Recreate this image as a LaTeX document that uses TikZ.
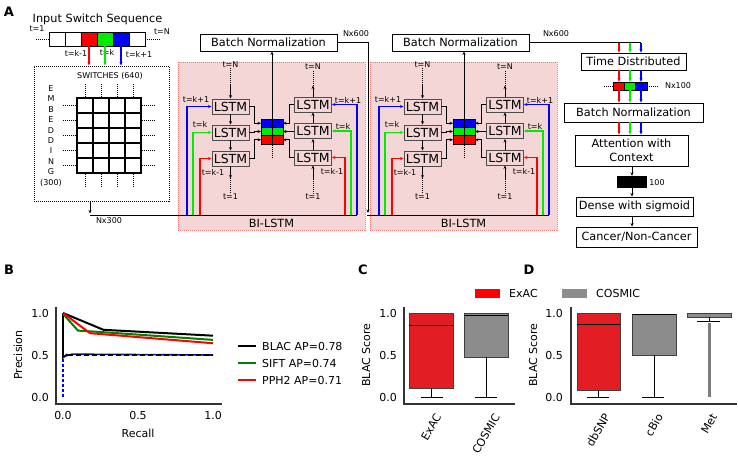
\documentclass[tikz,border=0pt]{standalone}
\usepackage{fontspec}
\setmainfont{DejaVu Sans}
\usetikzlibrary{positioning,arrows.meta,calc}

\newcommand{\fmain}{\fontsize{11.3}{13.5}\selectfont}
\newcommand{\fsmall}{\fontsize{8}{9.5}\selectfont}
\newcommand{\flstm}{\fontsize{12.5}{14}\selectfont}
\newcommand{\fpanel}{\fontsize{13}{15}\selectfont\bfseries}
\newcommand{\fplot}{\fontsize{11}{13}\selectfont}

\newcommand{\bilstm}[2]{%
  % #1 name, #2 x shift
  \begin{scope}[shift={(#2,0)}]
    \fill[pinkfill] (178,62) rectangle (365,230);
    \draw[pinkline] (178,62) rectangle (365,230);
    \node[font=\fmain] (#1-lab) at (271.5,223) {BI-LSTM};
    \node[box, minimum width=137pt, minimum height=17pt] (#1-bn) at (268.5,42.5) {Batch Normalization};
    % forward column (top to bottom)
    \node[lstm] (#1-l1) at (230.5,106.5) {LSTM};
    \node[lstm] (#1-l2) at (230.5,132.5) {LSTM};
    \node[lstm] (#1-l3) at (230.5,158.5) {LSTM};
    % backward column (bottom to top)
    \node[lstm] (#1-r1) at (313,104.5) {LSTM};
    \node[lstm] (#1-r2) at (313,131) {LSTM};
    \node[lstm] (#1-r3) at (313,157.5) {LSTM};
    % concatenated state
    \foreach \col [count=\ii from 0] in {seqblue,seqgreen,seqred} {
      \draw[fill=\col, line width=0.5pt] (261,119+8.33*\ii) rectangle (272,127.33+8.33*\ii);
      \draw[fill=\col, line width=0.5pt] (272,119+8.33*\ii) rectangle (283,127.33+8.33*\ii);
    }
    \node[draw, line width=1pt, minimum width=22pt, minimum height=25pt, inner sep=0pt] (#1-cube) at (272,131.5) {};
    \coordinate (#1-wb) at (261,123.2);
    \coordinate (#1-wg) at (261,131.5);
    \coordinate (#1-wr) at (261,139.8);
    \coordinate (#1-eb) at (283,123.2);
    \coordinate (#1-eg) at (283,131.5);
    \coordinate (#1-er) at (283,139.8);
    \draw[arr] (#1-l1.east) -- ++(5,0) |- (#1-wb);
    \draw[arr] (#1-l2.east) -- ++(5,0) |- (#1-wg);
    \draw[arr] (#1-l3.east) -- ++(5,0) |- (#1-wr);
    \draw[arr] (#1-r1.west) -- ++(-5,0) |- (#1-eb);
    \draw[arr] (#1-r2.west) -- ++(-5,0) |- (#1-eg);
    \draw[arr] (#1-r3.west) -- ++(-5,0) |- (#1-er);
    \draw[arr] (#1-cube.north) -- (#1-cube.north |- #1-bn.south);
    \draw[dots] (#1-cube.south) -- ++(0,14);
    % time steps, left
    \node[lab] (#1-ltn) at (230.5,65) {t=N};
    \node[lab] (#1-lt1) at (230.5,197) {t=1};
    \draw[dots] (#1-ltn.south) -- ++(0,16) coordinate (#1-la);
    \draw[arr] (#1-la) -- (#1-l1.north);
    \draw[arr] (#1-l1) -- (#1-l2);
    \draw[arr] (#1-l2) -- (#1-l3);
    \draw[arr] (#1-l3.south) -- ++(0,12) coordinate (#1-lb);
    \draw[dots] (#1-lb) -- (#1-lt1.north);
    % time steps, right
    \node[lab] (#1-rtn) at (313,67) {t=N};
    \node[lab] (#1-rt1) at (313,197) {t=1};
    \draw[dots] (#1-rt1.north) -- ++(0,-14) coordinate (#1-rb);
    \draw[arr] (#1-rb) -- (#1-r3.south);
    \draw[arr] (#1-r3) -- (#1-r2);
    \draw[arr] (#1-r2) -- (#1-r1);
    \draw[arr] (#1-r1.north) -- ++(0,-11) coordinate (#1-ra);
    \draw[dots] (#1-ra) -- (#1-rtn.south);
    % inputs from the bus
    \coordinate (#1-bb) at (187,215);
    \coordinate (#1-bg) at (193,215);
    \coordinate (#1-br) at (200,215);
    \coordinate (#1-qb) at (357,215);
    \coordinate (#1-qg) at (351,215);
    \coordinate (#1-qr) at (345,215);
    \draw[cin, seqblue]  (#1-bb) |- (#1-l1.west);
    \draw[cin, seqgreen] (#1-bg) |- (#1-l2.west);
    \draw[cin, seqred]   (#1-br) |- (#1-l3.west);
    \draw[cin, seqblue]  (#1-qb) |- (#1-r1.east);
    \draw[cin, seqgreen] (#1-qg) |- (#1-r2.east);
    \draw[cin, seqred]   (#1-qr) |- (#1-r3.east);
    \node[lab] (#1-kp) at (196,99) {t=k+1};
    \node[lab] (#1-k) at (200,124) {t=k};
    \node[lab] (#1-km) at (213,172) {t=k-1};
    \node[lab] (#1-qkp) at (348,100) {t=k+1};
    \node[lab] (#1-qk) at (343,126) {t=k};
    \node[lab] (#1-qkm) at (332,171) {t=k-1};
  \end{scope}%
}

\begin{document}
\begin{tikzpicture}[x=1pt, y=-1pt,
  box/.style={draw, line width=0.9pt, inner sep=0pt, font=\fmain, align=center},
  lstm/.style={draw=black!70, line width=0.9pt, inner sep=0pt, minimum width=37pt, minimum height=15pt, font=\flstm},
  lab/.style={font=\fsmall, inner sep=0pt},
  arr/.style={-{Stealth[length=3.5pt,width=3pt]}, line width=0.7pt},
  cin/.style={-{Stealth[length=3.5pt,width=3pt]}, line width=1.2pt},
  dots/.style={line width=0.9pt, dash pattern=on 1pt off 1pt},
  pinkfill/.style={fill=lstmbg},
  pinkline/.style={draw=red!55, line width=0.6pt, dash pattern=on 1pt off 1pt},
  seqc/.style={draw, line width=0.9pt, minimum width=16pt, minimum height=14pt, inner sep=0pt},
  cell/.style={draw, line width=1.1pt, minimum width=16pt, minimum height=15pt, inner sep=0pt},
  panel/.style={font=\fpanel, inner sep=0pt},
  ticklab/.style={font=\fplot, inner sep=0pt},
  spine/.style={draw=black!80, line width=1.2pt},
  whisk/.style={line width=0.8pt},
  bxred/.style={fill=boxred, draw=black!75, line width=0.8pt},
  bxgray/.style={fill=boxgray, draw=black!75, line width=0.8pt},
  patch/.style={minimum width=25pt, minimum height=9pt, inner sep=0pt}]

\definecolor{seqred}{RGB}{255,0,0}
\definecolor{seqgreen}{RGB}{0,235,0}
\definecolor{seqblue}{RGB}{0,0,255}
\definecolor{lstmbg}{RGB}{245,214,214}
\definecolor{plotgreen}{RGB}{0,128,0}
\definecolor{boxred}{RGB}{226,30,36}
\definecolor{boxgray}{RGB}{140,140,140}
\definecolor{fliergray}{RGB}{125,125,125}

\fill[white] (0,0) rectangle (738,456);
\useasboundingbox (0,0) rectangle (738,456);

% ===== INPUT SEQUENCE =====
\node[panel] (pa) at (9,11.5) {A};
\node[font=\fmain] (seqt) at (97.5,19) {Input Switch Sequence};
\foreach \col [count=\ii from 0] in {white,white,seqred,seqgreen,seqblue,white}
  \node[seqc, fill=\col] (s\ii) at (57+16*\ii,39) {};
\draw[dots] (s0.west) -- ++(-14,0);
\draw[dots] (s5.east) -- ++(15,0);
\node[lab] (st1) at (37,29) {t=1};
\node[lab] (stn) at (162,32) {t=N};
\node[lab] (skm) at (76,53) {t=k-1};
\node[lab] (sk) at (107,52) {t=k};
\node[lab] (skp) at (139,54) {t=k+1};

% ===== EMBEDDING =====
\node[draw, dots, minimum width=135pt, minimum height=135pt, inner sep=0pt] (emb) at (101.5,133.5) {};
\draw[cin, seqred]   (s2.south) -- (s2.south |- emb.north);
\draw[cin, seqgreen] (s3.south) -- (s3.south |- emb.north);
\draw[cin, seqblue]  (s4.south) -- (s4.south |- emb.north);
\node[lab] (swl) at (110,76) {SWITCHES (640)};
\node[font=\fontsize{8}{10.4}\selectfont, align=center, inner sep=0pt] (embl) at (51,136) {E\\M\\B\\E\\D\\D\\I\\N\\G\\(300)};
\foreach \r in {0,...,4}
  \foreach \cc in {0,...,3}
    \node[cell] (g\r\cc) at (85+16*\cc,105.5+15*\r) {};
\foreach \cc in {0,...,3} {
  \draw[dots] (g0\cc.north) -- ++(0,-13);
  \draw[dots] (g4\cc.south) -- ++(0,14);
}
\foreach \r in {0,...,4} {
  \draw[dots] (g\r0.west) -- ++(-13,0);
  \draw[dots] (g\r3.east) -- ++(14,0);
}

% ===== BI-LSTM BLOCKS =====
\bilstm{b1}{0}
\bilstm{b2}{192}

% bus lines
\coordinate (bus1) at (90,215);
\draw[arr] (emb.south -| bus1) -- ++(0,12);
\draw[line width=0.9pt] (bus1) -- (b1-qb);
\node[lab] (n300) at (109,221) {Nx300};
\coordinate (drop1) at (368,213);
\draw[arr] (b1-bn.east) -| (drop1);
\node[lab] (n600a) at (356,34) {Nx600};
\coordinate (bus2) at (367,215);
\draw[line width=0.9pt] (bus2) -- (b2-qb);

% ===== CLASSIFIER =====
\coordinate (cr) at (619,42.5);
\coordinate (cg) at (630,42.5);
\coordinate (cb) at (641,42.5);
\draw[line width=0.9pt] (b2-bn.east) -- (cb);
\node[lab] (n600b) at (556,34) {Nx600};
\node[box, minimum width=105pt, minimum height=17pt] (td) at (633.5,61.5) {Time Distributed};
\foreach \col [count=\ii from 0] in {seqred,seqgreen,seqblue}
  \draw[fill=\col, line width=0.9pt] (613+11.33*\ii,82) rectangle (624.33+11.33*\ii,90);
\node[minimum width=34pt, minimum height=8pt, inner sep=0pt] (bar) at (630,86) {};
\draw[dots] (bar.west) -- ++(-10,0);
\draw[dots] (bar.east) -- ++(11,0);
\node[lab] (n100) at (678,86) {Nx100};
\node[box, minimum width=139pt, minimum height=19pt] (bn3) at (633.5,112.5) {Batch Normalization};
\node[box, minimum width=113pt, minimum height=31pt] (att) at (631.5,150.5) {Attention with\\Context};
\foreach \col/\p in {seqred/cr, seqgreen/cg, seqblue/cb} {
  \draw[cin, \col] (\p) -- (\p |- td.north);
  \draw[cin, \col] (td.south -| \p) -- (bar.north -| \p);
  \draw[cin, \col] (bar.south -| \p) -- (bn3.north -| \p);
  \draw[cin, \col] (bn3.south -| \p) -- (att.north -| \p);
}
\node[fill=black, minimum width=30pt, minimum height=12pt, inner sep=0pt] (blk) at (632,182) {};
\node[lab] (n100b) at (657,183) {100};
\node[box, minimum width=117pt, minimum height=19pt] (dense) at (634.5,206.5) {Dense with sigmoid};
\node[box, minimum width=121pt, minimum height=20pt] (cancer) at (636.5,237) {Cancer/Non-Cancer};
\draw[arr] (att.south -| blk) -- (blk.north);
\draw[arr] (blk.south) -- (dense.north -| blk);
\draw[arr] (dense.south -| blk) -- (cancer.north -| blk);

% ===== PANEL B =====
\node[panel] (pb) at (9,270) {B};
\draw[spine] (56,307) -- (56,404) -- (222,404);
\foreach \v/\yy [count=\ii] in {0.0/397,0.5/355,1.0/313}
  \node[ticklab, anchor=east] (by\ii) at (49,\yy) {\v};
\foreach \v/\xx [count=\ii] in {0.0/63,0.5/138,1.0/213}
  \node[ticklab] (bx\ii) at (\xx,415) {\v};
\node[ticklab, rotate=90] (bylab) at (18,355) {Precision};
\node[ticklab] (bxlab) at (138,433) {Recall};
\begin{scope}[shift={(63,397)}, x=150pt, y=84pt]
  \draw[seqblue, line width=1.6pt, dash pattern=on 3pt off 2pt] (0,0) -- (0,1);
  \draw[black, line width=1.8pt] (0,1) -- (0,0.47) -- (0.03,0.51);
  \draw[seqblue, line width=1.6pt] (0.02,0.49) -- (0.06,0.51) -- (1,0.5);
  \draw[black, line width=1.6pt, dash pattern=on 5pt off 3pt] (0.03,0.5) -- (1,0.5);
  \draw[black, line width=2pt] (0,1) -- (0.27,0.80) -- (1,0.73);
  \draw[plotgreen, line width=2pt] (0,0.99) -- (0.1,0.79) -- (0.2,0.78) -- (1,0.68);
  \draw[seqred, line width=2pt] (0,1) -- (0.18,0.76) -- (1,0.64);
\end{scope}
\foreach \col/\txt/\yy [count=\ii] in {black/BLAC AP=0.78/346, plotgreen/SIFT AP=0.74/363, seqred/PPH2 AP=0.71/380} {
  \node[ticklab, anchor=west] (lg\ii) at (262,\yy) {\txt};
  \draw[\col, line width=2.5pt] (lg\ii.west) ++(-6,0) -- ++(-18,0);
}

% ===== PANEL C =====
\node[panel] (pc) at (363,270) {C};
\draw[spine] (404,307) -- (404,404) -- (515,404);
\foreach \v/\yy [count=\ii] in {0.0/397,0.5/355,1.0/313}
  \node[ticklab, anchor=east] (cy\ii) at (397,\yy) {\v};
\node[ticklab, rotate=90] (cylab) at (366,355) {BLAC Score};
\draw[bxred] (409,313) rectangle (453,388);
\draw[whisk] (409,325) -- (453,325);
\draw[whisk] (431,388) -- (431,397) (421,397) -- (443,397);
\draw[bxgray] (464,313) rectangle (508,357);
\draw[whisk] (464,315) -- (508,315);
\draw[whisk] (486,357) -- (486,397) (475,397) -- (497,397);
\node[ticklab, rotate=60] (cx1) at (431,427) {ExAC};
\node[ticklab, rotate=60] (cx2) at (486,434) {COSMIC};

% legend
\node[patch, fill=seqred] (lgr) at (487.5,293.5) {};
\node[ticklab, anchor=west] (lgrt) at (509,293.5) {ExAC};
\node[patch, fill=boxgray] (lgg) at (574.5,293.5) {};
\node[ticklab, anchor=west] (lggt) at (596,293.5) {COSMIC};

% ===== PANEL D =====
\node[panel] (pd) at (529,270) {D};
\draw[spine] (571,307) -- (571,404) -- (737,404);
\foreach \v/\yy [count=\ii] in {0.0/397,0.5/355,1.0/313}
  \node[ticklab, anchor=east] (dy\ii) at (563,\yy) {\v};
\node[ticklab, rotate=90] (dylab) at (533,355) {BLAC Score};
\draw[bxred] (577,313) rectangle (620,390);
\draw[whisk] (577,324) -- (620,324);
\draw[whisk] (598.5,390) -- (598.5,397) (587,397) -- (609,397);
\draw[bxgray] (632,314) rectangle (676,355);
\draw[whisk] (632,314) -- (676,314);
\draw[whisk] (654,355) -- (654,397) (642,397) -- (664,397);
\draw[fliergray, line width=3pt] (709,323) -- (709,397);
\draw[bxgray] (687,313) rectangle (731,317);
\draw[whisk] (709,317) -- (709,321) (697,321) -- (720,321);
\node[ticklab, rotate=60] (dx1) at (598,430) {dbSNP};
\node[ticklab, rotate=60] (dx2) at (654,425) {cBio};
\node[ticklab, rotate=60] (dx3) at (709,424) {Met};

\end{tikzpicture}
\end{document}
